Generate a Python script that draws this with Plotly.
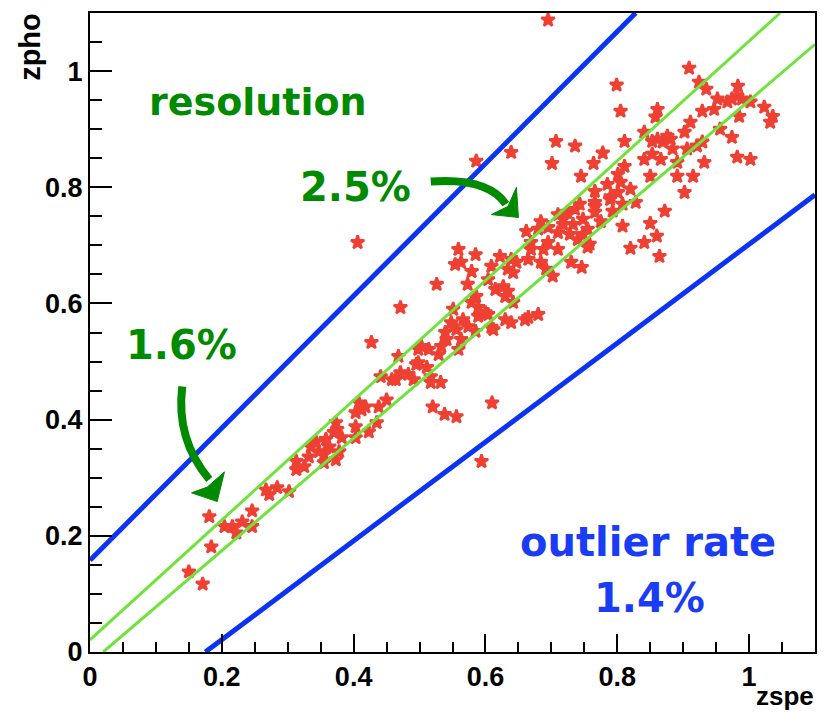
import plotly.graph_objects as go

# ---- data ----
zspe = [0.150,0.171,0.181,0.184,0.204,0.216,0.222,0.231,0.246,0.246,
        0.267,0.272,0.284,0.302,0.313,0.313,0.325,0.332,0.343,0.355,
        0.358,0.347,0.363,0.373,0.378,0.375,0.382,0.370,0.373,0.403,
        0.403,0.403,0.408,0.412,0.423,0.435,0.438,0.418,0.450,0.441,
        0.458,0.464,0.471,0.483,0.491,0.495,0.498,0.511,0.517,0.517,
        0.532,0.468,0.498,0.503,0.514,0.529,0.533,0.539,0.548,0.556,
        0.563,0.559,0.585,0.574,0.604,0.609,0.586,0.589,0.589,0.579,
        0.600,0.612,0.573,0.526,0.471,0.427,0.406,0.520,0.538,0.556,
        0.610,0.594,0.615,0.634,0.630,0.639,0.660,0.665,0.680,0.559,
        0.585,0.563,0.554,0.579,0.609,0.622,0.639,0.642,0.634,0.627,
        0.630,0.642,0.647,0.665,0.684,0.692,0.662,0.669,0.669,0.695,
        0.684,0.695,0.710,0.702,0.730,0.746,0.724,0.733,0.740,0.748,
        0.755,0.766,0.728,0.755,0.766,0.775,0.766,0.793,0.790,0.801,
        0.805,0.808,0.828,0.808,0.820,0.841,0.860,0.850,0.872,0.864,
        0.745,0.701,0.639,0.586,0.707,0.736,0.764,0.778,0.811,0.811,
        0.841,0.841,0.853,0.869,0.881,0.884,0.866,0.876,0.891,0.891,
        0.850,0.902,0.911,0.902,0.915,0.921,0.929,0.932,0.947,0.929,
        0.956,0.974,0.982,1.002,0.861,0.858,0.909,0.924,0.935,0.983,
        0.982,0.952,0.967,0.989,1.002,1.023,1.036,1.032,0.985,0.799,
        0.805,0.695,0.766,0.820,0.785,0.718,0.743,0.710,
        0.718,0.748,0.758,0.736,0.710,0.355,0.335,0.551,0.566,0.541,
        0.861,0.853,0.974,0.604,0.680,0.688,0.801,0.906,0.789]

zpho = [0.138,0.117,0.233,0.181,0.216,0.216,0.205,0.224,0.216,0.243,
        0.279,0.271,0.283,0.276,0.314,0.328,0.319,0.336,0.362,0.326,
        0.366,0.345,0.353,0.331,0.345,0.383,0.369,0.378,0.395,0.412,
        0.388,0.369,0.429,0.417,0.379,0.395,0.422,0.422,0.434,0.474,
        0.469,0.469,0.481,0.478,0.469,0.495,0.498,0.490,0.474,0.464,
        0.464,0.509,0.521,0.526,0.521,0.512,0.526,0.550,0.567,0.555,
        0.538,0.521,0.552,0.560,0.581,0.559,0.612,0.593,0.578,0.602,
        0.584,0.555,0.633,0.633,0.593,0.533,0.705,0.422,0.409,0.405,
        0.429,0.328,0.624,0.621,0.572,0.567,0.572,0.576,0.581,0.693,
        0.684,0.671,0.667,0.655,0.664,0.681,0.676,0.653,0.659,0.629,
        0.612,0.602,0.671,0.676,0.671,0.659,0.724,0.705,0.693,0.705,
        0.741,0.731,0.722,0.647,0.671,0.662,0.757,0.736,0.710,0.745,
        0.728,0.757,0.719,0.697,0.774,0.741,0.793,0.759,0.784,0.791,
        0.809,0.771,0.774,0.733,0.695,0.705,0.716,0.738,0.759,0.681,
        0.819,0.841,0.860,0.845,0.879,0.871,0.841,0.859,0.836,0.879,
        0.848,0.895,0.879,0.878,0.883,0.866,0.848,0.888,0.843,0.819,
        0.819,0.895,0.912,0.791,0.819,0.871,0.878,0.843,0.934,0.931,
        0.900,0.886,0.852,0.848,0.934,0.921,1.005,0.981,0.969,0.974,
        0.957,0.952,0.947,0.952,0.947,0.938,0.922,0.912,0.922,0.976,
        0.931,1.088,0.767,0.797,0.805,0.736,0.771,0.693,
        0.745,0.719,0.702,0.762,0.753,0.340,0.353,0.590,0.572,0.538,
        0.883,0.857,0.952,0.641,0.728,0.693,0.822,0.866,0.779]

# outlier boundaries (blue) and resolution band (green), endpoints
outlier_up_x = [0.0, 0.828]
outlier_up_y = [0.158, 1.10]
outlier_lo_x = [0.175, 1.10]
outlier_lo_y = [0.0, 0.787]
res_up_x = [0.0, 1.047]
res_up_y = [0.021, 1.10]
res_lo_x = [0.020, 1.10]
res_lo_y = [0.0, 1.046]

x_tickvals = [0, 0.2, 0.4, 0.6, 0.8, 1.0]
x_ticktext = ["0", "0.2", "0.4", "0.6", "0.8", "1"]
y_tickvals = [0, 0.2, 0.4, 0.6, 0.8, 1.0]
y_ticktext = ["0", "0.2", "0.4", "0.6", "0.8", "1"]

assert len(zspe) == len(zpho)

GREEN_TXT = "#008a00"
BLUE_TXT = "#1a3cf5"
BLUE_LINE = "#0a33f2"
GREEN_LINE = "#6fe33c"
RED = "#ee4133"
TXT_FONT = "Comic Sans MS, DejaVu Sans, sans-serif"
AX_FONT = "Liberation Sans, Arial, Helvetica, sans-serif"

fig = go.Figure()
fig.add_trace(go.Scatter(x=zspe, y=zpho, mode="markers",
                         marker=dict(symbol="star", size=10, color=RED,
                                     line=dict(width=2.5, color=RED)),
                         showlegend=False, hoverinfo="skip"))
for xs, ys, col, w in [(outlier_up_x, outlier_up_y, BLUE_LINE, 5),
                       (outlier_lo_x, outlier_lo_y, BLUE_LINE, 5),
                       (res_up_x, res_up_y, GREEN_LINE, 3),
                       (res_lo_x, res_lo_y, GREEN_LINE, 3)]:
    fig.add_trace(go.Scatter(x=xs, y=ys, mode="lines",
                             line=dict(color=col, width=w),
                             showlegend=False, hoverinfo="skip"))

axis_common = dict(range=[0, 1.1], showgrid=False, zeroline=False,
                   showline=True, linecolor="black", linewidth=2, mirror=True,
                   ticks="inside", tickcolor="black", tickwidth=2,
                   tickfont=dict(family=AX_FONT, size=27, color="black", weight="bold"))

fig.update_xaxes(**axis_common, tickvals=x_tickvals, ticktext=x_ticktext, ticklen=18,
                 minor=dict(dtick=0.05, tick0=0, ticks="inside", ticklen=10,
                            tickcolor="black", tickwidth=2))
fig.update_yaxes(**axis_common, tickvals=y_tickvals, ticktext=y_ticktext, ticklen=22,
                 minor=dict(dtick=0.05, tick0=0, ticks="inside", ticklen=12,
                            tickcolor="black", tickwidth=2))

# curved arrows
arrow_style = dict(type="path", xref="x", yref="y", line=dict(color=GREEN_TXT, width=8))
fig.add_shape(path="M 0.140,0.457 Q 0.130,0.366 0.181,0.297", **arrow_style)
fig.add_shape(type="path", xref="x", yref="y",
              path="M 0.154,0.274 L 0.193,0.259 L 0.204,0.310 L 0.178,0.284 Z",
              fillcolor=GREEN_TXT, line=dict(color=GREEN_TXT, width=1))
fig.add_shape(path="M 0.517,0.810 Q 0.604,0.817 0.631,0.771", **arrow_style)
fig.add_shape(type="path", xref="x", yref="y",
              path="M 0.609,0.753 L 0.650,0.748 L 0.647,0.800 L 0.634,0.767 Z",
              fillcolor=GREEN_TXT, line=dict(color=GREEN_TXT, width=1))

def txt(s, x, y, col, size=40):
    fig.add_annotation(text=s, x=x, y=y, xref="x", yref="y", showarrow=False,
                       xanchor="center", yanchor="middle",
                       font=dict(family=TXT_FONT, size=size, color=col, weight="bold"))

txt("resolution", 0.255, 0.947, GREEN_TXT, 38)
txt("2.5%", 0.403, 0.800, GREEN_TXT, 40)
txt("1.6%", 0.139, 0.529, GREEN_TXT, 40)
txt("outlier rate", 0.847, 0.190, BLUE_TXT, 40)
txt("1.4%", 0.849, 0.093, BLUE_TXT, 40)

# axis titles (ROOT style: at the ends of the axes)
fig.add_annotation(text="zspe", xref="paper", yref="paper", x=1, y=0,
                   xanchor="right", yanchor="bottom", yshift=-60, showarrow=False,
                   borderpad=0,
                   font=dict(family=AX_FONT, size=26, color="black", weight="bold"))
fig.add_annotation(text="zpho", xref="paper", yref="paper", x=0, y=0.947,
                   xanchor="center", yanchor="middle", xshift=-60, textangle=-90,
                   showarrow=False,
                   font=dict(family=AX_FONT, size=29, color="black", weight="bold"))

fig.update_layout(width=825, height=712, autosize=False,
                  margin=dict(l=90, r=8, t=13, b=60),
                  paper_bgcolor="white", plot_bgcolor="white")

fig.write_html("out.html")
